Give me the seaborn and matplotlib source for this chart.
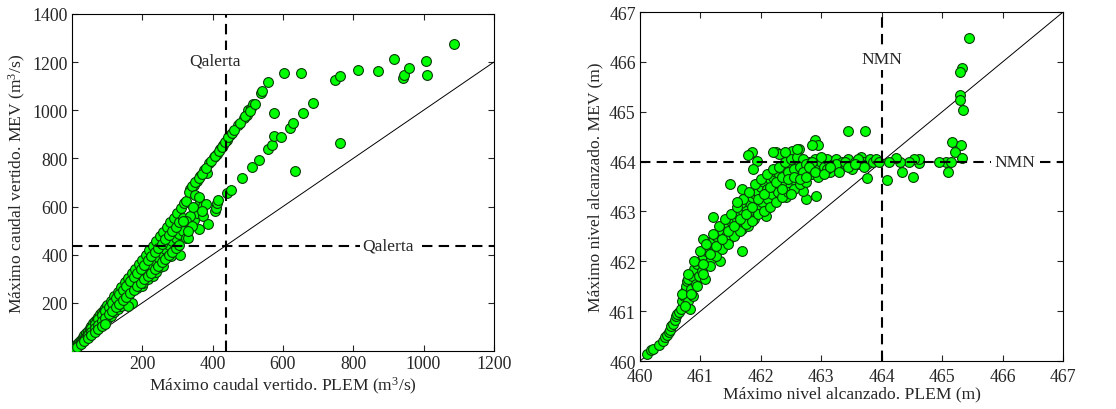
import numpy as np
import pandas as pd
import seaborn as sns
import matplotlib.pyplot as plt

sns.set_style("ticks")
plt.rcParams['font.family'] = ['Liberation Serif', 'DejaVu Serif']
plt.rcParams['mathtext.fontset'] = 'custom'
plt.rcParams['mathtext.rm'] = 'Liberation Serif'
plt.rcParams['mathtext.it'] = 'Liberation Serif:italic'

# Caudal maximo vertido (m3/s): PLEM vs MEV
caudal_plem = [
    3, 5, 6, 8, 10, 12, 15, 18, 20, 22, 25, 28, 30, 33, 35, 38, 40, 42, 45, 48,
    50, 52, 55, 58, 60, 62, 65, 68, 70, 72, 75, 78, 80, 82, 85, 88, 90, 92, 95, 98,
    100, 105, 110, 115, 120, 125, 130, 135, 140, 145, 150, 155, 160, 165, 170, 175,
    180, 185, 190, 195, 200, 205, 210, 215, 220, 225, 230, 235, 240, 245, 250, 255,
    260, 265, 270, 275, 280, 285, 290, 295, 300, 305, 310, 315, 320, 325,
    10, 20, 30, 40, 50, 60, 70, 80, 90, 100, 110, 120, 130, 140, 150, 160, 172, 159,
    185, 200, 203, 215, 230, 240, 250, 259, 270, 281, 290, 298, 307, 323, 330,
    337, 346, 355, 365, 375, 384, 389, 403, 412, 421, 431, 440, 450, 472, 488, 497, 502, 510,
    516, 538, 541, 559, 603, 651, 748, 762, 813, 870, 916, 942, 945, 959, 1008, 1009, 1086,
    346, 355, 360, 365, 372, 374, 388, 407, 410, 412, 414, 440, 452, 485, 512, 531,
    559, 568, 576, 576, 596, 619, 630, 658, 686, 633, 762,
]
caudal_mev = [
    3, 8, 7, 12, 18, 19, 28, 28, 38, 35, 46, 44, 57, 51, 66, 60, 76, 67, 85, 76,
    96, 83, 104, 92, 115, 99, 124, 108, 133, 115, 142, 124, 152, 131, 161, 140, 170, 147, 180, 156,
    190, 167, 208, 183, 228, 199, 246, 215, 266, 231, 285, 247, 303, 263, 322, 279,
    342, 295, 360, 311, 380, 327, 400, 343, 418, 359, 438, 375, 458, 391, 476, 407,
    496, 423, 515, 439, 535, 455, 553, 471, 572, 487, 592, 500, 615, 625,
    13, 26, 40, 53, 66, 80, 93, 106, 120, 133, 147, 160, 175, 188, 204, 215, 198, 187,
    260, 270, 284, 300, 310, 330, 350, 351, 390, 393, 420, 434, 400, 469, 470,
    674, 691, 705, 726, 753, 740, 781, 806, 820, 837, 857, 878, 899, 937, 968, 982, 1003, 1010,
    1027, 1073, 1080, 1118, 1153, 1153, 1124, 1142, 1168, 1161, 1211, 1132, 1146, 1174, 1203, 1147, 1274,
    545, 573, 506, 617, 601, 562, 529, 580, 594, 615, 629, 656, 667, 719, 763, 792,
    839, 855, 892, 988, 889, 927, 947, 988, 1030, 749, 862,
]
# banda densa adicional
caudal_plem_b = [
    55, 65, 75, 85, 95, 105, 115, 125, 135, 145, 155, 165, 175, 185, 195, 205, 215, 225,
    235, 245, 255, 265, 275, 285, 295, 305, 315,
    45, 55, 65, 75, 85, 95, 105, 115, 125, 135, 145, 155, 165, 175, 185, 195, 205, 215,
    225, 235, 245, 255, 265, 275, 285, 295, 305,
    15, 25, 35, 45, 55, 65, 75, 85, 95,
    333, 342, 350, 360, 370, 380, 395, 408, 417, 426, 436, 445, 455, 462, 478, 493, 505, 520,
    335, 345, 325, 350, 360, 380, 370, 340, 330, 315,
]
caudal_mev_b = [
    96, 114, 131, 149, 166, 184, 201, 219, 236, 254, 271, 289, 306, 324, 341, 359, 376, 394,
    411, 429, 446, 464, 481, 499, 516, 534, 551,
    65, 80, 94, 109, 123, 138, 152, 167, 181, 196, 210, 225, 239, 254, 268, 283, 297, 312,
    326, 341, 355, 370, 384, 399, 413, 428, 442,
    18, 30, 42, 54, 66, 78, 90, 102, 114,
    660, 685, 700, 718, 735, 762, 790, 812, 830, 848, 868, 888, 905, 918, 948, 978, 995, 1025,
    560, 600, 540, 650, 640, 610, 580, 520, 500, 540,
]

# Nivel maximo alcanzado (m): PLEM vs MEV
nivel_plem = [
    460.12, 460.18, 460.22, 460.32, 460.38, 460.42, 460.45, 460.48, 460.50, 460.52,
    460.55, 460.58, 460.60, 460.62, 460.65, 460.68, 460.70, 460.72, 460.74, 460.76,
    460.78, 460.80, 460.80, 460.82, 460.84, 460.86, 460.88, 460.90, 460.92, 460.95,
    460.97, 461.00, 461.02, 461.05, 461.07, 461.08, 461.10, 461.12, 461.15, 461.18,
    461.20, 461.22, 461.25, 461.28, 461.30, 461.32, 461.35, 461.38, 461.40, 461.42,
    461.45, 461.48, 461.50, 461.52, 461.55, 461.58, 461.60, 461.62, 461.65, 461.68,
    461.70, 461.72, 461.75, 461.78, 461.80, 461.82, 461.85, 461.88, 461.90, 461.92,
    461.95, 461.98, 462.00, 462.02, 462.05, 462.08, 462.10, 462.12, 462.15, 462.18,
    462.20, 462.22, 462.25, 462.28, 462.30, 462.32, 462.35, 462.38, 462.40, 462.42,
    462.45, 462.48, 462.50, 462.52, 462.55, 462.58, 462.60, 462.62, 462.65, 462.68,
    462.70, 462.75, 462.80, 462.85, 462.90, 462.95, 463.00, 463.05, 463.10, 463.15,
    463.20, 463.25, 463.30, 463.35, 463.40, 463.45, 463.50, 463.55, 463.60, 463.65,
    463.70, 463.75, 463.80, 463.85, 463.90, 463.95,
    465.44, 465.33, 465.30, 465.30, 465.30, 465.35, 465.17, 465.31, 465.22, 465.33,
    465.09, 465.06, 464.95, 465.14, 464.62, 464.62, 464.53, 464.51, 464.45, 464.33,
    464.30, 464.23, 464.09, 464.12, 463.76, 463.73, 463.45, 462.89, 462.95, 462.85,
    462.91, 462.74, 462.69, 462.63, 462.52, 462.25, 461.86, 461.78, 461.93, 461.87,
    461.49, 461.68, 461.67, 461.21, 461.68, 461.05,
]
nivel_mev = [
    460.15, 460.22, 460.25, 460.33, 460.40, 460.48, 460.52, 460.58, 460.62, 460.70,
    460.75, 460.82, 460.90, 460.95, 460.98, 461.05, 461.20, 461.30, 461.40, 461.50,
    461.60, 461.65, 461.20, 461.05, 461.45, 461.70, 461.30, 461.85, 461.55, 461.95,
    461.70, 462.00, 461.80, 462.10, 461.65, 462.40, 462.20, 461.95, 462.30, 462.05,
    462.40, 462.20, 462.50, 462.30, 462.55, 462.00, 462.60, 462.40, 462.70, 462.50,
    462.75, 462.45, 462.80, 462.60, 462.80, 462.55, 462.85, 462.70, 462.90, 462.65,
    463.00, 462.80, 463.10, 462.70, 463.20, 462.95, 463.30, 462.85, 463.35, 463.05,
    463.40, 463.10, 463.50, 463.20, 463.60, 462.90, 463.45, 463.25, 463.65, 463.35,
    463.70, 463.50, 463.80, 463.40, 463.75, 463.55, 463.85, 463.60, 463.90, 463.30,
    463.75, 463.50, 463.95, 463.70, 463.85, 463.60, 463.95, 463.75, 464.00, 463.85,
    463.95, 463.80, 464.00, 463.90, 464.05, 463.85, 464.00, 463.90, 464.05, 463.80,
    463.95, 464.05, 463.90, 464.00, 463.95, 464.05, 463.85, 464.00, 463.95, 464.10,
    464.00, 463.95, 464.05, 464.00, 464.05, 464.00,
    466.48, 465.88, 465.79, 465.34, 465.23, 465.04, 464.39, 464.34, 464.19, 464.07,
    463.80, 464.00, 464.00, 463.99, 463.98, 464.05, 464.05, 463.70, 464.00, 463.80,
    464.00, 464.07, 463.64, 463.99, 463.68, 464.61, 464.61, 464.44, 464.34, 464.33,
    463.32, 463.26, 463.42, 464.25, 464.22, 464.19, 464.20, 464.14, 464.02, 463.85,
    463.55, 463.45, 463.18, 462.88, 462.20, 462.44,
]
nivel_plem_b = [
    460.70, 460.80, 460.90, 461.00, 461.10, 461.20, 461.30, 461.40, 461.50, 461.60,
    461.70, 461.80, 461.90, 462.00, 462.10, 462.20, 462.30, 462.40, 462.50, 462.60, 462.70,
    460.75, 460.85, 460.95, 461.05, 461.15, 461.25, 461.35, 461.45, 461.55, 461.65,
    461.75, 461.85, 461.95, 462.05, 462.15, 462.25, 462.35, 462.45, 462.55, 462.65,
    462.75, 462.85, 462.95,
    461.05, 461.15, 461.25, 461.35, 461.45, 461.55, 461.65, 461.75, 461.85, 461.95,
    462.05, 462.15, 462.25, 462.35, 462.45, 462.55, 462.65, 462.75, 462.85, 463.00,
    463.10, 463.25, 463.40, 463.60, 463.70,
    462.30, 462.40, 462.60, 462.20, 461.60,
    462.45, 462.55, 462.70, 462.80, 462.90, 463.05, 463.15, 463.30, 463.45, 463.55,
    462.35, 462.50, 462.65, 462.75,
]
nivel_mev_b = [
    461.35, 461.75, 462.00, 462.20, 462.35, 462.55, 462.70, 462.85, 462.95, 463.10,
    463.25, 463.40, 463.55, 463.65, 463.75, 463.85, 463.90, 464.00, 464.05, 464.10, 464.05,
    461.10, 461.35, 461.50, 461.75, 461.90, 462.10, 462.25, 462.35, 462.50, 462.60,
    462.75, 462.80, 462.95, 463.00, 463.10, 463.20, 463.30, 463.40, 463.45, 463.55,
    463.60, 463.75, 463.70,
    461.95, 462.15, 462.30, 462.45, 462.60, 462.70, 462.85, 462.95, 463.10, 463.25,
    463.35, 463.50, 463.60, 463.70, 463.80, 463.85, 463.90, 463.95, 464.00, 464.10,
    463.85, 463.95, 464.00, 464.05, 463.90,
    464.15, 464.20, 464.25, 464.20, 463.20,
    463.65, 463.70, 463.80, 463.90, 463.80, 463.75, 463.90, 463.80, 463.90, 463.95,
    463.45, 463.35, 463.65, 463.70,
]

qalerta = 438
nmn = 464

df_q = pd.DataFrame({'plem': caudal_plem + caudal_plem_b, 'mev': caudal_mev + caudal_mev_b})
df_n = pd.DataFrame({'plem': nivel_plem + nivel_plem_b, 'mev': nivel_mev + nivel_mev_b})

fig = plt.figure(figsize=(11.16, 4.10), dpi=100)
ax1 = fig.add_axes([0.0645, 0.1415, 0.378, 0.822])
ax2 = fig.add_axes([0.5735, 0.117, 0.379, 0.851])

dash = (0, (5, 3))
mk = dict(color='#00ff00', edgecolor='#0a3a0a', linewidth=0.8, s=50, zorder=3)
fs = 12.6

# panel izquierdo
ax1.plot([0, 1200], [0, 1200], color='black', lw=0.7, zorder=2)
sns.scatterplot(data=df_q, x='plem', y='mev', ax=ax1, **mk)
ax1.axvline(qalerta, color='black', ls=dash, lw=1.5, zorder=4)
ax1.axhline(qalerta, color='black', ls=dash, lw=1.5, zorder=4)
ax1.text(407, 1205, 'Qalerta', ha='center', va='center', fontsize=fs,
         bbox=dict(facecolor='white', edgecolor='none', pad=2), zorder=5)
ax1.text(900, qalerta, 'Qalerta', ha='center', va='center', fontsize=fs,
         bbox=dict(facecolor='white', edgecolor='none', pad=2), zorder=5)
ax1.set_xlim(0, 1200)
ax1.set_ylim(0, 1400)
ax1.set_xticks([200, 400, 600, 800, 1000, 1200])
ax1.set_yticks([200, 400, 600, 800, 1000, 1200, 1400])
ax1.set_xlabel('Máximo caudal vertido. PLEM (m$^3$/s)', fontsize=fs, labelpad=2)
ax1.set_ylabel('Máximo caudal vertido. MEV (m$^3$/s)', fontsize=fs, labelpad=3)

# panel derecho
ax2.plot([460, 467], [460, 467], color='black', lw=0.7, zorder=2)
sns.scatterplot(data=df_n, x='plem', y='mev', ax=ax2, **mk)
ax2.axvline(nmn, color='black', ls=dash, lw=1.5, zorder=4)
ax2.axhline(nmn, color='black', ls=dash, lw=1.5, zorder=4)
ax2.text(464.0, 466.06, 'NMN', ha='center', va='center', fontsize=fs,
         bbox=dict(facecolor='white', edgecolor='none', pad=2), zorder=5)
ax2.text(466.2, nmn, 'NMN', ha='center', va='center', fontsize=fs,
         bbox=dict(facecolor='white', edgecolor='none', pad=2), zorder=5)
ax2.set_xlim(460, 467)
ax2.set_ylim(460, 467)
ax2.set_xticks(range(460, 468))
ax2.set_yticks(range(460, 468))
ax2.set_xlabel('Máximo nivel alcanzado. PLEM (m)', fontsize=fs, labelpad=0)
ax2.set_ylabel('Máximo nivel alcanzado. MEV (m)', fontsize=fs, labelpad=4)

for ax in (ax1, ax2):
    ax.tick_params(direction='in', top=True, right=True, length=4, width=0.8,
                   labelsize=12.8, pad=3)
    for sp in ax.spines.values():
        sp.set_linewidth(0.8)
        sp.set_color('black')
    ax.set_facecolor('white')
ax2.tick_params(axis='x', pad=5)

fig.savefig('out.png', dpi=100, facecolor='white')
